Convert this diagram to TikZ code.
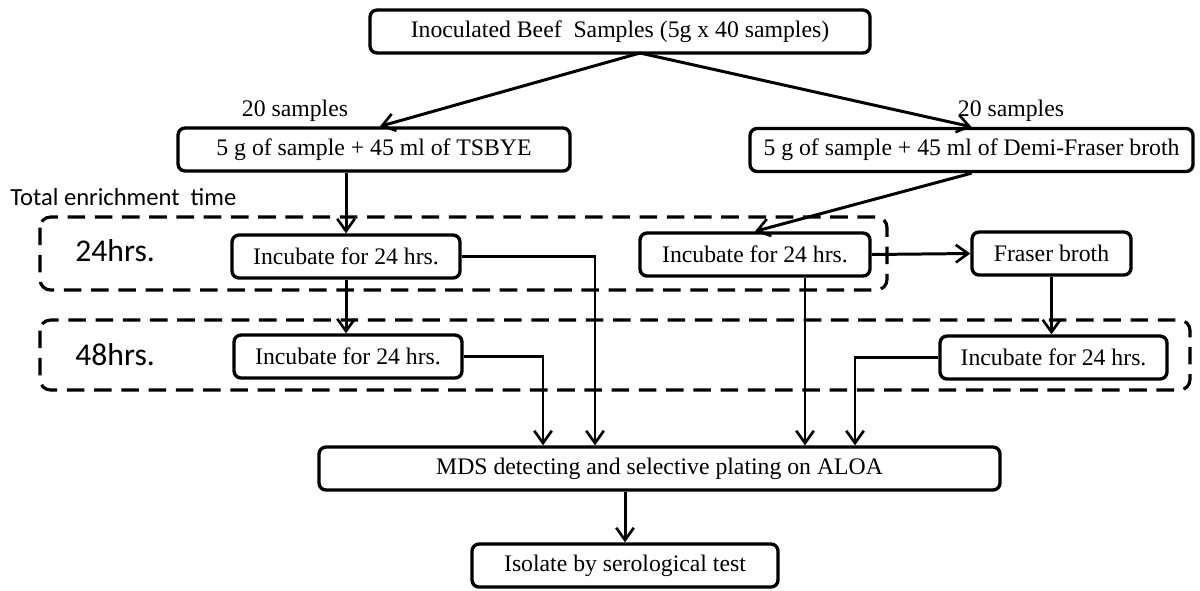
\documentclass[tikz,border=0pt]{standalone}
\usepackage{fontspec}
\setmainfont{Liberation Serif}
\newfontfamily\labelfont{Carlito}
\usetikzlibrary{arrows.meta}

\begin{document}
\begin{tikzpicture}[
  box/.style={draw, rounded corners=4pt, line width=1.9pt, inner sep=2pt, minimum height=0.86cm, font=\fontsize{13.5}{15}\selectfont},
  zone/.style={draw, dashed, dash pattern=on 10pt off 5.5pt, line width=1.8pt, rounded corners=6pt},
  arr/.style={line width=1.7pt, -{Straight Barb[length=7pt,width=10pt,line width=1.5pt]}},
  thin arr/.style={arr, line width=1.3pt},
  tag/.style={inner sep=0pt, font=\fontsize{13.5}{15}\selectfont},
  hrs/.style={inner sep=0pt, anchor=west, font=\labelfont\fontsize{18}{20}\selectfont}
]
\useasboundingbox (0,0) rectangle (24,-11.8);
\draw[zone] (0.8,-4.34) rectangle (17.74,-5.8);
\draw[zone] (0.8,-6.4) rectangle (23.8,-7.8);
\node[inner sep=0pt, anchor=west, font=\labelfont\fontsize{14}{16}\selectfont] (total) at (0.2,-3.94) {Total enrichment\ \ time};
\node[hrs] (h24) at (1.5,-5.02) {24hrs.};
\node[hrs] (h48) at (1.5,-7.1) {48hrs.};
\node[box, minimum width=10cm] (beef) at (12.4,-0.63) {Inoculated Beef\ \ Samples (5g x 40 samples)};
\node[box, minimum width=7.84cm] (tsbye) at (7.48,-2.99) {5 g of sample + 45 ml of TSBYE};
\node[box, minimum width=8.86cm] (demi) at (19.43,-3.0) {5 g of sample + 45 ml of Demi-Fraser broth};
\node[tag] (nleft) at (5.9,-2.22) {20 samples};
\node[tag] (nright) at (20.22,-2.22) {20 samples};
\node[box, minimum width=4.56cm] (incA1) at (6.92,-5.13) {Incubate for 24 hrs.};
\node[box, minimum width=4.6cm] (incB1) at (15.1,-5.09) {Incubate for 24 hrs.};
\node[box, minimum width=3.18cm] (fraser) at (21.03,-5.07) {Fraser broth};
\node[box, minimum width=4.56cm] (incA2) at (6.96,-7.13) {Incubate for 24 hrs.};
\node[box, minimum width=4.54cm] (incB2) at (21.07,-7.15) {Incubate for 24 hrs.};
\node[box, minimum width=13.62cm] (mds) at (13.19,-9.37) {MDS detecting and selective plating on ALOA};
\node[box, minimum width=6.12cm] (iso) at (12.5,-11.31) {Isolate by serological test};
\coordinate (split) at (12.8,-1.06);
\draw[arr] (split) -- ([xshift=0.12cm]tsbye.north);
\draw[arr] (split) -- (demi.north);
\draw[arr] (incA1.north |- tsbye.south) -- (incA1.north);
\draw[arr] (demi.south) -- (incB1.north);
\draw[arr] (incB1.east) -- (fraser.west);
\draw[arr] (incA1.south) -- (incA1.south |- incA2.north);
\draw[arr] (fraser.south) -- (fraser.south |- incB2.north);
\draw[thin arr] (incA2.east) -| ([xshift=-2.33cm]mds.north);
\draw[thin arr] (incA1.east) -| ([xshift=-1.29cm]mds.north);
\draw[thin arr] ([xshift=1cm]incB1.south) -- ([xshift=1cm]incB1.south |- mds.north);
\draw[thin arr] (incB2.west) -| ([xshift=3.91cm]mds.north);
\draw[arr] (iso.north |- mds.south) -- (iso.north);
\end{tikzpicture}
\end{document}
